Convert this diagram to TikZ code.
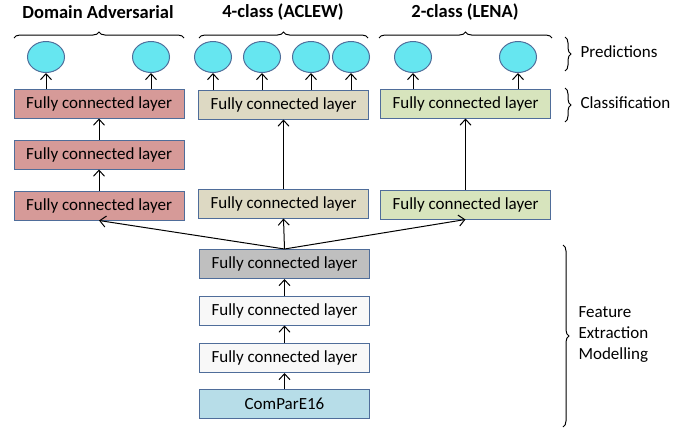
\documentclass[tikz,border=0pt]{standalone}
\usepackage{fontspec}
\setmainfont{Carlito}
\usetikzlibrary{shapes.geometric,arrows.meta,decorations.pathreplacing}
\definecolor{edgeblue}{HTML}{4F6D9A}
\definecolor{advred}{HTML}{D69A98}
\definecolor{aclewtan}{HTML}{DDD9C3}
\definecolor{lenagreen}{HTML}{D7E4BD}
\definecolor{sharedgray}{HTML}{BFBFBF}
\definecolor{featwhite}{HTML}{F8F8F8}
\definecolor{inblue}{HTML}{B7DDE8}
\definecolor{predcyan}{HTML}{66E6F0}
\tikzset{
  layer/.style={draw=edgeblue, line width=1pt, minimum width=170pt, minimum height=29pt, inner sep=0pt, font=\fontsize{17}{20}\selectfont},
  pred/.style={ellipse, draw=edgeblue, line width=1pt, fill=predcyan, minimum width=37pt, minimum height=31pt, inner sep=0pt},
  arr/.style={-{Straight Barb[length=6pt,width=11pt]}, line width=1pt},
  grp/.style={decorate, decoration={brace, amplitude=6pt}, line width=1pt},
  title/.style={font=\fontsize{18.5}{22}\selectfont\bfseries},
  side/.style={anchor=west, align=left, font=\fontsize{17}{21}\selectfont}
}
\begin{document}
\begin{tikzpicture}[x=1pt, y=-1pt]
   \useasboundingbox (0,0) rectangle (699,429);

   % shared feature extraction stack
   \node[layer, fill=inblue] (in) at (284.5,403.5) {ComParE16};
   \node[layer, fill=featwhite] (c3) at (284.5,358) {Fully connected layer};
   \node[layer, fill=featwhite] (c2) at (284.5,310.5) {Fully connected layer};
   \node[layer, fill=sharedgray] (c1) at (284.5,264) {Fully connected layer};

   % domain adversarial branch
   \node[layer, fill=advred] (d3) at (99,205.5) {Fully connected layer};
   \node[layer, fill=advred] (d2) at (99,154.5) {Fully connected layer};
   \node[layer, fill=advred] (d1) at (99,103.5) {Fully connected layer};

   % 4-class branch
   \node[layer, fill=aclewtan] (f2) at (283.5,203.5) {Fully connected layer};
   \node[layer, fill=aclewtan] (f1) at (283.5,104.5) {Fully connected layer};

   % 2-class branch
   \node[layer, fill=lenagreen] (l2) at (465.5,204.5) {Fully connected layer};
   \node[layer, fill=lenagreen] (l1) at (465.5,103.5) {Fully connected layer};

   % predictions
   \node[pred] (dp1) at (46,57) {};
   \node[pred] (dp2) at (151,57) {};
   \node[pred] (fp1) at (213,57) {};
   \node[pred] (fp2) at (262,57) {};
   \node[pred] (fp3) at (311,57) {};
   \node[pred] (fp4) at (351,57) {};
   \node[pred] (lp1) at (413,57) {};
   \node[pred] (lp2) at (518,57) {};

   \draw[arr] (in) -- (c3);
   \draw[arr] (c3) -- (c2);
   \draw[arr] (c2) -- (c1);
   \draw[arr] (c1.north) -- (d3.south);
   \draw[arr] (c1.north) -- (f2.south);
   \draw[arr] (c1.north) -- (l2.south);
   \draw[arr] (d3) -- (d2);
   \draw[arr] (d2) -- (d1);
   \draw[arr] (f2) -- (f1);
   \draw[arr] (l2) -- (l1);
   \foreach \p/\b in {dp1/d1, dp2/d1, fp1/f1, fp2/f1, fp3/f1, fp4/f1, lp1/l1, lp2/l1}
     \draw[arr] (\b.north -| \p.south) -- (\p.south);

   % task braces and titles
   \draw[grp] (14,38) -- (184,38);
   \draw[grp] (199,38) -- (368,38);
   \draw[grp] (379,38) -- (552,38);
   \node[title] (tda) at (98,12) {Domain Adversarial};
   \node[title] (tac) at (283,12) {4-class (ACLEW)};
   \node[title] (tle) at (465,12) {2-class (LENA)};

   % side braces
   \draw[grp] (565,37) -- (565,71);
   \draw[grp] (565,88) -- (565,122);
   \draw[grp] (563,245) -- (563,427);
   \node[side] (spr) at (577,52) {Predictions};
   \node[side] (scl) at (577,103) {Classification};
   \node[side] (sfe) at (575,335) {Feature\\Extraction\\Modelling};
\end{tikzpicture}
\end{document}
